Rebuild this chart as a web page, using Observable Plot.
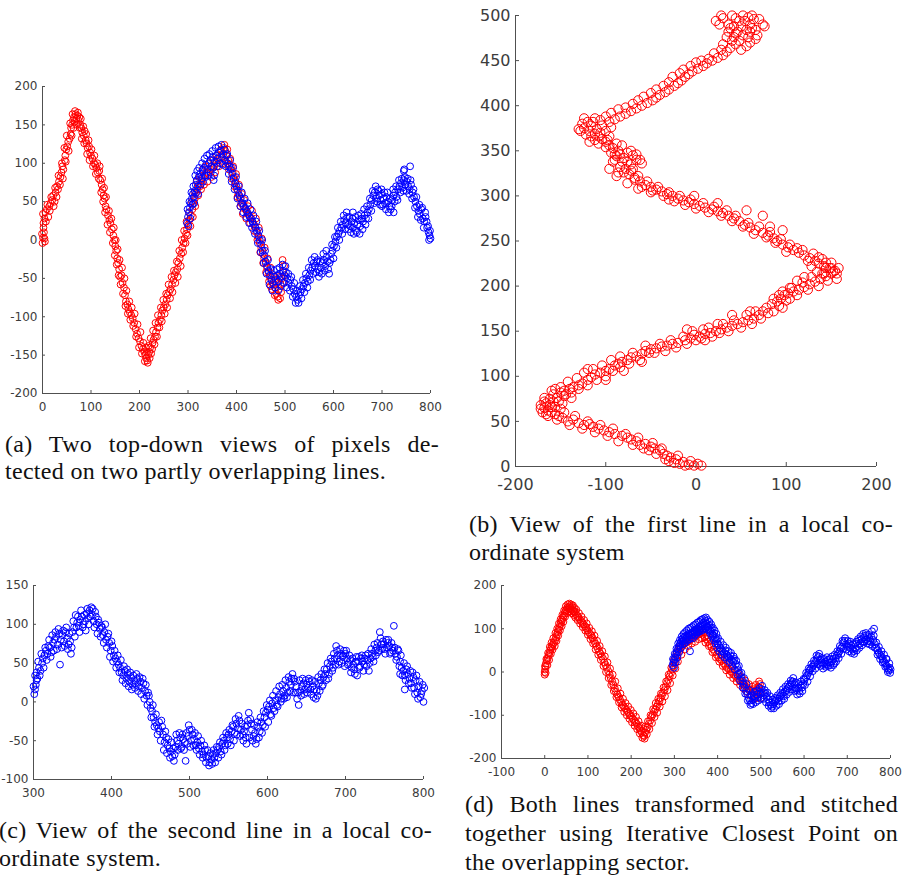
<!DOCTYPE html>
<html>
<head>
<meta charset="utf-8">
<script src="https://cdn.jsdelivr.net/npm/d3@7"></script>
<script src="https://cdn.jsdelivr.net/npm/@observablehq/plot@0.6"></script>
<style>
  html, body { margin: 0; padding: 0; background: #fff; }
  #page { position: relative; width: 902px; height: 879px; background: #fff; overflow: hidden; }
  .panel { position: absolute; }
  .cap { position: absolute; font-family: "Liberation Serif", "Times New Roman", serif; font-size: 24px;
         line-height: 24px; color: #111; letter-spacing: 0.3px; white-space: nowrap; }
  .just { text-align: justify; text-align-last: justify; white-space: normal; }
</style>
</head>
<body>
<div id="page"></div>
<script>
// (a) first line, global frame
const lineA1 = [
[0,-4],[1,3],[-1,8],[3,10],[5,-2],[2,16],[4,28],[1,34],[6,36],[9,40],[12,30],[14,44],[17,48],[20,52],[22,58],[25,50],[27,62],[30,70],[32,66],[34,76],[37,82],[39,88],[41,96],[43,92],[46,104],[47,110],[49,118],[51,122],[53,128],[56,132],[58,138],[59,146],[61,150],[63,156],[65,160],[66,154],[68,164],[70,158],[72,162],[74,156],[76,160],[78,150],[80,146],[82,140],[85,136],[87,142],[89,130],[91,126],[93,120],[96,122],[98,114],[100,110],[103,106],[106,100],[109,98],[111,94],[114,88],[117,90],[119,78],[122,72],[124,66],[126,58],[128,54],[130,44],[132,40],[135,32],[138,26],[140,22],[143,14],[146,6],[148,0],[150,-8],[152,-14],[154,-24],[156,-30],[158,-38],[160,-48],[163,-46],[165,-56],[168,-62],[170,-72],[172,-80],[175,-84],[177,-90],[180,-94],[183,-98],[186,-102],[189,-108],[192,-116],[195,-122],[198,-128],[201,-132],[204,-138],[207,-142],[210,-146],[212,-150],[214,-154],[216,-157],[218,-150],[220,-146],[222,-140],[224,-148],[227,-134],[229,-130],[232,-126],[234,-120],[237,-114],[239,-108],[242,-104],[245,-98],[247,-92],[250,-88],[253,-84],[256,-78],[258,-72],[261,-68],[264,-64],[267,-58],[270,-52],[272,-46],[275,-42],[278,-38],[280,-30],[283,-24],[286,-18],[288,-10],[291,-4],[293,2],[296,8],[298,14],[300,20],[303,26],[306,32],[309,40],[311,48],[314,54],[316,60],[319,66],[322,72],[325,70],[328,78],[331,82],[335,84],[338,88],[342,86],[346,92],[350,94],[354,96],[358,100],[362,104],[366,108],[370,112],[374,120],[377,116],[380,110],[383,104],[386,98],[389,94],[392,88],[395,82],[398,76],[401,66],[404,60],[407,54],[410,48],[414,44],[418,40],[422,36],[426,32],[430,28],[434,22],[438,18],[442,10],[445,4],[448,-4],[451,-10],[454,-18],[457,-24],[460,-30],[463,-36],[466,-42],[469,-48],[472,-52],[476,-58],[479,-62],[482,-70],[485,-74],[488,-64],[491,-58],[494,-50],[496,-42],[498,-34],[490,-76],[470,-60],[480,-50],
[2,22],[4,2],[7,24],[10,46],[15,38],[18,56],[23,44],[26,68],[29,56],[33,84],[36,72],[40,100],[42,80],[45,120],[48,102],[50,136],[54,116],[57,152],[60,136],[62,164],[64,146],[67,168],[71,150],[73,166],[77,146],[79,158],[81,132],[84,148],[86,126],[90,138],[92,112],[95,130],[97,104],[101,118],[104,96],[107,110],[110,86],[113,100],[116,80],[118,96],[121,62],[123,80],[125,50],[127,68],[129,36],[131,56],[134,20],[137,38],[139,10],[142,28],[145,-4],[147,16],[149,-20],[151,0],[153,-32],[155,-12],[157,-46],[159,-26],[161,-58],[164,-36],[166,-70],[169,-50],[171,-86],[173,-66],[176,-96],[179,-80],[181,-104],[184,-88],[187,-112],[190,-96],[193,-126],[196,-110],[199,-140],[202,-120],[205,-148],[208,-134],[211,-158],[213,-140],[215,-146],[217,-160],[219,-138],[221,-154],[223,-128],[226,-142],[228,-118],[231,-136],[233,-108],[236,-126],[238,-98],[241,-114],[244,-88],[246,-106],[249,-78],[252,-96],[255,-70],[257,-88],[260,-58],[263,-76],[266,-48],[268,-68],[271,-40],[274,-56],[277,-28],[279,-48],[282,-14],[285,-34],[287,0],[290,-16],[292,12],[295,-4],[297,24],[299,6],[302,36],[305,18],[308,50],[310,30],[313,62],[315,44],[318,76],[321,58],[324,82],[327,66],[330,92],[333,72],[336,96],[340,76],[344,100],[348,82],[352,104],[356,88],[360,110],[364,96],[368,118],[372,100],[375,124],[378,102],[381,118],[384,92],[387,106],[390,80],[393,96],[396,70],[399,86],[402,56],[405,72],[408,44],[411,60],[413,34],[416,52],[420,28],[424,44],[428,22],[432,38],[436,12],[440,28],[443,0],[446,16],[449,-16],[452,2],[455,-30],[458,-10],[461,-42],[464,-24],[467,-54],[470,-36],[473,-64],[476,-46],[479,-72],[483,-56],[486,-78],[489,-48],[492,-68],[495,-26],[497,-56],[499,-46]
];

// (a) second line, global frame
const lineA2 = [
[298,22],[300,30],[302,36],[304,42],[306,48],[308,54],[310,60],[312,56],[314,64],[316,72],[318,78],[320,70],[322,82],[325,86],[328,80],[330,90],[333,94],[335,84],[337,98],[340,92],[343,100],[346,104],[348,96],[351,108],[353,78],[355,102],[358,110],[361,106],[364,114],[367,116],[370,108],[373,112],[376,104],[379,110],[382,100],[385,96],[388,92],[391,86],[394,80],[397,74],[400,70],[403,64],[406,58],[409,54],[412,48],[415,44],[418,42],[421,38],[424,34],[427,30],[430,28],[433,24],[436,20],[439,16],[442,12],[445,6],[448,0],[451,-6],[454,-14],[457,-20],[460,-28],[463,-34],[466,-40],[469,-46],[472,-52],[475,-56],[478,-48],[481,-52],[484,-46],[487,-54],[490,-44],[493,-48],[496,-40],[499,-46],[502,-42],[505,-50],[508,-56],[511,-52],[514,-60],[517,-64],[520,-70],[523,-74],[526,-78],[529,-72],[532,-68],[535,-64],[538,-60],[541,-56],[544,-50],[547,-54],[550,-46],[553,-40],[556,-36],[559,-30],[562,-34],[565,-28],[568,-38],[571,-42],[574,-36],[577,-30],[580,-26],[583,-34],[586,-22],[589,-38],[592,-30],[595,-18],[598,-14],[601,-8],[604,-2],[607,4],[610,8],[613,12],[616,16],[619,20],[622,26],[625,22],[628,30],[631,14],[634,18],[637,24],[640,16],[643,22],[646,12],[649,20],[652,26],[655,18],[658,28],[661,24],[664,32],[667,28],[670,36],[673,40],[676,46],[679,52],[682,58],[685,62],[688,54],[691,66],[694,58],[697,52],[700,60],[703,54],[706,48],[709,56],[712,50],[715,44],[718,40],[721,52],[724,58],[727,62],[730,56],[733,66],[736,70],[739,74],[742,68],[745,78],[748,72],[751,76],[754,70],[757,66],[760,72],[763,62],[766,56],[769,50],[772,44],[775,38],[778,34],[781,40],[784,28],[787,24],[790,30],[793,16],[796,10],[798,6],[800,2],[745,90],[758,96],[746,92],[724,36],[700,44],[640,36],
[299,40],[301,18],[303,50],[305,28],[307,62],[309,46],[311,70],[313,48],[315,84],[317,62],[319,90],[321,60],[323,94],[326,72],[329,100],[331,76],[334,106],[336,82],[339,110],[341,84],[344,112],[347,88],[350,116],[352,94],[354,84],[357,120],[360,96],[363,122],[366,100],[369,124],[372,98],[375,118],[378,96],[381,112],[384,86],[387,104],[390,76],[393,94],[396,66],[399,82],[402,54],[405,70],[408,44],[411,62],[414,36],[417,54],[420,30],[423,48],[426,22],[429,40],[432,16],[435,32],[438,8],[441,24],[444,-4],[447,12],[450,-16],[453,0],[456,-30],[459,-14],[462,-44],[465,-26],[468,-58],[471,-38],[474,-66],[477,-40],[480,-62],[483,-38],[486,-66],[489,-36],[492,-60],[495,-32],[498,-56],[501,-34],[504,-62],[507,-44],[510,-66],[513,-48],[516,-74],[519,-56],[522,-82],[525,-66],[528,-82],[531,-60],[534,-76],[537,-52],[540,-68],[543,-44],[546,-62],[549,-36],[552,-52],[555,-26],[558,-44],[561,-22],[564,-42],[567,-26],[570,-48],[573,-28],[576,-44],[579,-18],[582,-40],[585,-14],[588,-28],[591,-44],[594,-26],[597,-6],[600,-24],[603,4],[606,-10],[609,16],[612,0],[615,24],[618,8],[621,32],[624,14],[627,36],[630,20],[633,30],[636,10],[639,28],[642,8],[645,30],[648,10],[651,32],[654,8],[657,34],[660,14],[663,40],[666,20],[669,44],[672,28],[675,54],[678,38],[681,64],[684,48],[687,70],[690,50],[693,64],[696,46],[699,66],[702,46],[705,62],[708,40],[711,62],[714,36],[717,54],[720,44],[723,66],[726,50],[729,70],[732,52],[735,78],[738,62],[741,80],[744,64],[747,82],[750,64],[753,80],[756,60],[759,78],[762,54],[765,66],[768,42],[771,56],[774,30],[777,46],[780,26],[783,42],[786,16],[789,36],[792,24],[795,18],[797,0],[799,12]
];

// (b) first line, local frame
const lineB = [
[-2,1],[2,3],[-8,2],[-14,5],[-18,3],[-22,8],[-28,10],[-32,12],[-36,14],[-30,6],[-40,18],[-46,20],[-50,22],[-56,25],[-62,24],[-66,28],[-72,30],[-76,32],[-82,34],[-90,36],[-96,38],[-102,40],[-108,42],[-114,44],[-118,47],[-124,46],[-130,48],[-136,52],[-142,50],[-148,54],[-152,56],[-156,58],[-160,60],[-164,62],[-168,65],[-162,68],[-166,70],[-158,72],[-162,75],[-154,76],[-158,80],[-150,82],[-146,84],[-140,86],[-136,88],[-130,90],[-126,92],[-120,96],[-116,99],[-112,102],[-106,104],[-100,106],[-96,108],[-90,112],[-86,114],[-82,116],[-76,118],[-72,121],[-66,122],[-60,125],[-56,128],[-50,130],[-44,131],[-38,133],[-32,134],[-26,136],[-20,137],[-12,140],[-6,142],[-2,146],[4,144],[10,147],[16,148],[22,150],[28,152],[34,154],[40,156],[46,158],[52,160],[58,162],[64,164],[70,168],[74,172],[78,176],[84,180],[90,183],[94,186],[98,190],[102,192],[108,194],[114,196],[120,199],[126,202],[132,205],[138,208],[144,211],[150,214],[154,217],[148,220],[142,222],[136,225],[132,228],[126,231],[120,234],[114,237],[108,240],[102,243],[96,246],[90,250],[86,253],[80,256],[74,259],[66,262],[60,265],[54,268],[48,272],[42,275],[36,278],[30,281],[24,283],[18,285],[10,287],[4,289],[-2,291],[-8,293],[-14,295],[-20,297],[-26,300],[-32,302],[-38,305],[-44,307],[-50,310],[-56,312],[-62,316],[-68,320],[-74,324],[-80,326],[-78,330],[-84,332],[-72,335],[-76,338],[-80,342],[-70,345],[-76,348],[-86,350],[-92,353],[-96,356],[-100,360],[-104,363],[-108,366],[-112,369],[-118,372],[-124,375],[-126,380],[-104,378],[-96,382],[-90,385],[-84,388],[-78,391],[-72,394],[-66,397],[-60,400],[-54,403],[-48,406],[-44,409],[-40,412],[-34,415],[-30,418],[-24,422],[-20,425],[-16,428],[-12,432],[-8,435],[-4,438],[2,441],[8,444],[12,447],[18,450],[24,453],[30,456],[34,460],[38,464],[44,468],[48,472],[42,476],[52,478],[46,482],[56,484],[50,488],[60,490],[54,494],[44,497],[30,497],[64,496],[74,490],[36,490],
[-6,6],[6,1],[-12,1],[-24,4],[-20,12],[-34,8],[-38,20],[-44,14],[-52,18],[-48,26],[-58,20],[-64,32],[-70,24],[-78,36],[-86,28],[-92,42],[-98,34],[-106,46],[-112,38],[-120,50],[-126,42],[-134,56],[-140,46],[-146,60],[-154,52],[-170,60],[-172,68],[-164,56],[-156,66],[-168,76],[-152,72],[-160,84],[-146,78],[-150,88],[-138,82],[-142,94],[-130,86],[-132,98],[-120,90],[-124,104],[-110,96],[-114,108],[-100,100],[-104,112],[-92,106],[-94,118],[-84,110],[-84,122],[-74,114],[-70,126],[-62,118],[-52,126],[-56,134],[-46,126],[-40,136],[-34,128],[-28,140],[-22,132],[-14,144],[-10,136],[-4,150],[0,140],[8,152],[6,142],[18,144],[14,154],[26,148],[30,158],[36,150],[42,162],[50,154],[56,168],[62,158],[66,172],[72,164],[80,170],[86,186],[92,178],[96,194],[104,186],[106,198],[112,190],[118,204],[124,196],[128,210],[136,200],[140,214],[146,206],[156,214],[158,220],[150,226],[152,216],[140,230],[144,220],[130,236],[136,232],[118,240],[124,228],[104,246],[112,242],[94,252],[100,238],[82,260],[88,248],[70,266],[78,254],[58,270],[64,258],[44,278],[52,266],[34,284],[40,272],[20,288],[28,278],[8,292],[14,282],[-6,296],[0,286],[-18,300],[-12,290],[-30,304],[-24,294],[-42,310],[-36,300],[-54,316],[-48,306],[-64,322],[-60,310],[-72,328],[-68,318],[-86,326],[-82,338],[-66,340],[-88,344],[-72,350],[-82,356],[-90,346],[-98,362],[-88,358],[-106,370],[-96,366],[-116,378],[-110,374],[-128,372],[-120,382],[-112,386],[-100,388],[-94,392],[-86,396],[-78,398],[-70,402],[-64,406],[-58,410],[-50,414],[-44,418],[-36,422],[-30,426],[-26,432],[-18,436],[-14,440],[-6,444],[0,448],[6,450],[14,452],[20,458],[28,462],[30,468],[40,472],[36,482],[58,476],[60,470],[66,484],[42,488],[48,494],[58,498],[26,490],[68,478],
[-88,322],[-96,330],[-92,338],[-62,340],[-66,346],[-90,340],[-84,346],[-94,348],[-100,354],[-108,358],[-112,362],[-116,366],[-122,368],[-118,360],[-130,374],[-124,386],[-114,382],[-106,384],[-100,372],[-94,376],[-60,336],[-70,330],[-76,314],[-64,308],
[22,494],[28,500],[40,500],[52,500],[62,500],[70,496],[76,488],[60,482],[66,474],[56,466],[50,462],[44,480],[38,486],[62,486],[34,476],
[-172,64],[-168,72],[-160,66],[-150,64],[-148,70],[-166,58],[-156,86],[-144,80],[-138,76],
[156,208],[150,220],[142,214],[134,216],[128,222],[144,226],[120,210],[112,206],[100,184],[92,190],[104,198],[96,176],[86,172],
[60,172],[40,168],[24,158],[-10,152],[10,140],[-60,116],[-80,106],[-100,96],[-120,108],[74,278],[82,266],[96,262],[56,284],[24,292],[-2,300],[-30,296],[-50,304]
];

// (c) second line, local frame
const lineC = [
[301,10],[302,16],[303,22],[302,34],[304,38],[305,30],[307,44],[309,40],[311,50],[312,56],[314,60],[316,66],[318,62],[319,72],[321,70],[323,64],[325,76],[327,80],[329,84],[331,74],[333,88],[334,48],[335,80],[337,86],[339,78],[341,90],[343,82],[345,74],[347,78],[349,70],[350,90],[352,96],[354,112],[356,102],[358,98],[360,106],[362,110],[364,100],[366,104],[368,114],[370,108],[372,118],[374,122],[375,112],[377,104],[379,116],[381,100],[383,106],[385,94],[387,98],[389,86],[391,90],[393,80],[395,84],[397,76],[399,66],[401,72],[403,60],[405,56],[407,52],[409,48],[411,44],[413,38],[415,34],[417,40],[419,30],[421,36],[423,26],[425,32],[427,22],[429,28],[431,24],[433,30],[435,20],[437,26],[439,18],[441,24],[443,14],[445,8],[447,12],[449,0],[450,-8],[452,-12],[454,-20],[456,-26],[458,-30],[460,-34],[462,-38],[464,-24],[466,-42],[468,-52],[470,-46],[472,-56],[474,-60],[476,-64],[478,-70],[480,-76],[482,-58],[484,-50],[486,-54],[488,-46],[490,-58],[492,-48],[494,-52],[496,-40],[498,-44],[500,-36],[502,-50],[504,-42],[506,-48],[508,-56],[510,-52],[512,-60],[514,-56],[516,-64],[518,-68],[520,-62],[522,-72],[524,-70],[526,-78],[528,-74],[530,-68],[532,-72],[534,-66],[536,-62],[538,-58],[540,-64],[542,-54],[544,-50],[546,-56],[548,-46],[550,-42],[552,-48],[554,-38],[556,-32],[558,-40],[560,-28],[562,-34],[564,-24],[566,-36],[568,-42],[570,-38],[572,-46],[574,-30],[576,-14],[578,-22],[580,-36],[582,-44],[584,-40],[586,-48],[588,-32],[590,-38],[592,-26],[594,-30],[596,-20],[598,-14],[600,-10],[602,-6],[604,-16],[606,-2],[608,-8],[610,2],[612,-4],[614,6],[616,10],[618,4],[620,14],[622,8],[624,18],[626,12],[628,26],[630,22],[632,36],[634,30],[636,12],[638,4],[640,-4],[642,14],[644,20],[646,24],[648,16],[650,22],[652,18],[654,26],[656,10],[658,20],[660,16],[662,4],[664,8],[666,24],[668,28],[670,20],[672,32],[674,36],[676,42],[678,30],[680,46],[682,52],[684,44],[686,56],[688,72],[690,60],[692,52],[694,62],[696,58],[698,66],[700,62],[702,56],[704,50],[706,54],[708,44],[710,48],[712,36],[714,58],[716,52],[718,44],[720,56],[722,52],[724,48],[726,60],[728,54],[730,40],[732,56],[734,62],[736,52],[738,66],[740,70],[742,64],[744,90],[746,74],[748,78],[750,68],[752,80],[754,76],[756,72],[758,64],[760,70],[762,98],[764,62],[766,58],[768,66],[770,52],[772,44],[774,40],[776,34],[778,42],[780,36],[782,30],[784,24],[786,38],[788,18],[790,28],[792,12],[794,20],[796,6],[798,14],[800,0],[801,18],[776,16],[770,36],
[300,20],[304,28],[306,52],[308,34],[310,62],[313,44],[315,70],[317,54],[320,80],[322,58],[324,86],[326,66],[328,90],[330,68],[332,94],[336,70],[338,92],[340,72],[342,96],[344,68],[346,88],[348,62],[351,104],[353,84],[355,96],[357,110],[359,90],[361,118],[363,96],[365,112],[367,92],[369,120],[371,100],[373,110],[376,120],[378,96],[380,110],[382,88],[384,102],[386,84],[388,96],[390,76],[392,100],[394,70],[396,88],[398,58],[400,78],[402,52],[404,66],[406,44],[408,60],[410,38],[412,54],[414,28],[416,46],[418,24],[420,42],[422,20],[424,38],[426,16],[428,34],[430,18],[432,36],[434,14],[436,32],[438,10],[440,30],[442,4],[444,22],[446,-4],[448,8],[451,-20],[453,-4],[455,-32],[457,-16],[459,-42],[461,-26],[463,-50],[465,-32],[467,-62],[469,-38],[471,-66],[473,-48],[475,-72],[477,-52],[479,-60],[481,-68],[483,-42],[485,-62],[487,-40],[489,-60],[491,-42],[493,-62],[495,-76],[497,-54],[499,-30],[501,-58],[503,-36],[505,-56],[507,-40],[509,-62],[511,-44],[513,-68],[515,-50],[517,-72],[519,-56],[521,-78],[523,-62],[525,-82],[527,-66],[529,-80],[531,-62],[533,-78],[535,-58],[537,-72],[539,-52],[541,-68],[543,-46],[545,-62],[547,-40],[549,-54],[551,-36],[553,-56],[555,-30],[557,-50],[559,-22],[561,-42],[563,-18],[565,-44],[567,-28],[569,-50],[571,-32],[573,-54],[575,-24],[577,-46],[579,-28],[581,-50],[583,-30],[585,-54],[587,-26],[589,-46],[591,-20],[593,-40],[595,-12],[597,-32],[599,-4],[601,-26],[603,2],[605,-18],[607,8],[609,-12],[611,14],[613,-6],[615,20],[617,0],[619,22],[621,4],[623,28],[625,6],[627,32],[629,14],[631,30],[633,12],[635,26],[637,20],[639,12],[641,28],[643,8],[645,30],[647,10],[649,28],[651,12],[653,30],[655,16],[657,28],[659,6],[661,26],[663,14],[665,32],[667,14],[669,36],[671,22],[673,42],[675,28],[677,50],[679,36],[681,56],[683,40],[685,62],[687,48],[689,66],[691,48],[693,68],[695,50],[697,60],[699,46],[701,66],[703,48],[705,60],[707,38],[709,56],[711,42],[713,52],[715,34],[717,58],[719,46],[721,60],[723,40],[725,56],[727,46],[729,62],[731,50],[733,68],[735,58],[737,74],[739,60],[741,76],[743,66],[745,82],[747,68],[749,74],[751,62],[753,70],[755,80],[757,62],[759,76],[761,66],[763,70],[765,54],[767,68],[769,46],[771,60],[773,34],[775,50],[777,28],[779,46],[781,24],[783,40],[785,18],[787,32],[789,10],[791,34],[793,4],[795,26],[797,10],[799,22]
];

// (d) both lines after ICP stitching
const lineD1 = [
[0,0],[1,6],[0,-6],[2,12],[3,20],[5,26],[7,32],[9,38],[11,44],[13,50],[15,56],[17,60],[19,64],[21,68],[24,74],[26,80],[28,86],[30,92],[32,98],[34,104],[36,110],[38,116],[40,120],[42,126],[44,130],[46,136],[48,140],[50,144],[52,148],[54,150],[56,146],[58,152],[60,148],[62,144],[64,150],[66,142],[68,138],[70,140],[72,134],[75,130],[78,126],[81,122],[84,118],[87,114],[90,110],[93,106],[96,102],[99,96],[102,92],[105,88],[108,84],[111,78],[114,72],[117,66],[120,60],[123,54],[126,48],[129,42],[132,36],[135,30],[138,22],[141,16],[144,10],[147,2],[150,-6],[153,-14],[156,-22],[159,-30],[162,-38],[165,-46],[168,-52],[171,-58],[174,-64],[177,-70],[180,-76],[183,-80],[186,-84],[189,-88],[192,-92],[195,-96],[198,-100],[201,-104],[204,-108],[207,-112],[210,-116],[213,-120],[216,-126],[219,-130],[222,-136],[225,-140],[228,-146],[230,-148],[232,-140],[235,-134],[238,-128],[241,-120],[244,-112],[247,-104],[250,-98],[253,-92],[256,-86],[259,-80],[262,-74],[265,-68],[268,-60],[271,-54],[274,-48],[277,-42],[280,-34],[283,-26],[286,-18],[289,-10],[292,-2],[295,6],[298,14],[301,22],[304,30],[307,38],[310,46],[314,54],[318,60],[322,64],[326,68],[330,70],[334,72],[338,76],[342,78],[346,80],[350,84],[354,86],[358,88],[362,90],[366,86],[370,80],[374,76],[378,70],[382,64],[386,58],[390,52],[394,46],[398,40],[402,34],[406,30],[410,26],[414,20],[418,14],[422,10],[426,6],[430,2],[434,-2],[438,-6],[442,-10],[446,-14],[450,-18],[454,-22],[458,-26],[462,-30],[466,-34],[470,-38],[474,-42],[478,-44],[482,-46],[486,-48],[490,-42],[494,-34],[496,-22],[498,-28],[500,-60],[484,-62],[492,-52],
[1,14],[2,-2],[4,30],[6,16],[8,44],[10,28],[12,58],[14,42],[16,68],[18,52],[20,78],[23,60],[25,90],[27,72],[29,100],[31,84],[33,112],[35,96],[37,122],[39,106],[41,132],[43,116],[45,142],[47,128],[49,152],[51,136],[53,156],[55,140],[57,158],[59,140],[61,156],[63,136],[65,154],[67,132],[69,148],[71,126],[73,144],[76,120],[79,136],[82,112],[85,128],[88,104],[91,120],[94,96],[97,112],[100,86],[103,102],[106,76],[109,94],[112,66],[115,84],[118,52],[121,72],[124,40],[127,60],[130,28],[133,48],[136,14],[139,36],[142,0],[145,22],[148,-14],[151,8],[154,-30],[157,-6],[160,-44],[163,-22],[166,-58],[169,-38],[172,-70],[175,-50],[178,-82],[181,-62],[184,-92],[187,-72],[190,-100],[193,-80],[196,-108],[199,-88],[202,-116],[205,-96],[208,-124],[211,-104],[214,-132],[217,-114],[220,-142],[223,-124],[226,-152],[229,-132],[231,-154],[233,-126],[236,-144],[239,-114],[242,-132],[245,-100],[248,-118],[251,-86],[254,-104],[257,-72],[260,-94],[263,-62],[266,-80],[269,-50],[272,-68],[275,-36],[278,-56],[281,-22],[284,-42],[287,-6],[290,-26],[293,10],[296,-8],[299,28],[302,8],[305,44],[308,24],[312,58],[316,40],[320,70],[324,52],[328,78],[332,60],[336,84],[340,66],[344,88],[348,70],[352,92],[356,76],[360,96],[364,78],[368,92],[372,68],[376,84],[380,60],[384,74],[388,46],[392,62],[396,34],[400,50],[404,24],[408,40],[412,14],[416,30],[420,4],[424,20],[428,-6],[432,12],[436,-14],[440,4],[444,-22],[448,-4],[452,-30],[456,-12],[460,-38],[464,-20],[468,-46],[472,-28],[476,-54],[480,-34],[484,-40],[488,-30],[492,-60],[496,-36],[500,-48]
];
const lineD2 = [
[296,16],[298,22],[300,28],[302,34],[304,40],[306,46],[308,52],[310,58],[312,62],[314,66],[316,70],[318,74],[320,78],[322,72],[324,82],[326,76],[328,84],[330,80],[332,88],[334,84],[336,48],[338,90],[340,86],[342,92],[344,88],[346,96],[348,92],[350,98],[352,94],[354,100],[356,104],[358,98],[360,106],[362,102],[364,110],[366,106],[368,114],[370,110],[372,118],[374,112],[376,106],[378,102],[380,108],[382,98],[384,94],[386,100],[388,88],[390,84],[392,90],[394,78],[396,72],[398,76],[400,66],[403,62],[406,56],[409,52],[412,48],[415,44],[418,50],[421,40],[424,36],[427,32],[430,38],[433,28],[436,24],[439,30],[442,18],[445,12],[448,4],[451,-4],[454,-12],[457,-20],[460,-28],[463,-36],[466,-44],[469,-52],[472,-60],[475,-66],[478,-72],[481,-64],[484,-56],[487,-60],[490,-52],[493,-58],[496,-46],[499,-50],[502,-40],[505,-48],[508,-54],[511,-50],[514,-58],[517,-64],[520,-70],[523,-76],[526,-80],[529,-74],[532,-70],[535,-66],[538,-62],[541,-68],[544,-58],[547,-54],[550,-50],[553,-56],[556,-46],[559,-42],[562,-38],[565,-34],[568,-30],[571,-26],[574,-22],[577,-28],[580,-36],[583,-42],[586,-38],[589,-44],[592,-32],[595,-36],[598,-28],[601,-18],[604,-12],[607,-8],[610,-2],[613,4],[616,8],[619,12],[622,16],[625,20],[628,26],[631,32],[634,36],[637,28],[640,22],[643,16],[646,20],[649,24],[652,18],[655,28],[658,22],[661,16],[664,24],[667,30],[670,20],[673,32],[676,38],[679,42],[682,48],[685,54],[688,58],[691,68],[694,72],[697,64],[700,60],[703,66],[706,56],[709,62],[712,52],[715,48],[718,54],[721,70],[724,60],[727,72],[730,66],[733,76],[736,70],[739,80],[742,84],[745,76],[748,72],[751,78],[754,70],[757,94],[760,74],[762,100],[764,64],[767,56],[770,50],[773,44],[776,40],[779,36],[782,30],[785,24],[788,20],[791,14],[794,8],[796,4],[798,10],[800,6],[790,30],
[297,30],[299,10],[301,42],[303,22],[305,54],[307,34],[309,66],[311,46],[313,74],[315,56],[317,82],[319,64],[321,88],[323,66],[325,92],[327,70],[329,96],[331,74],[333,100],[335,76],[337,102],[339,80],[341,104],[343,78],[345,108],[347,84],[349,110],[351,88],[353,114],[355,92],[357,116],[359,94],[361,120],[363,96],[365,122],[367,100],[369,124],[371,100],[373,126],[375,104],[377,120],[379,96],[381,116],[383,90],[385,110],[387,82],[389,102],[391,74],[393,96],[395,66],[397,88],[399,56],[401,78],[404,48],[407,70],[410,40],[413,62],[416,34],[419,56],[422,28],[425,48],[428,22],[431,44],[434,14],[437,36],[440,6],[443,26],[446,-6],[449,14],[452,-20],[455,-2],[458,-36],[461,-14],[464,-50],[467,-28],[470,-66],[473,-42],[476,-76],[479,-54],[482,-74],[485,-46],[488,-70],[491,-44],[494,-66],[497,-38],[500,-62],[503,-32],[506,-62],[509,-42],[512,-70],[515,-48],[518,-78],[521,-56],[524,-84],[527,-64],[530,-84],[533,-60],[536,-78],[539,-54],[542,-74],[545,-48],[548,-66],[551,-40],[554,-62],[557,-34],[560,-52],[563,-28],[566,-46],[569,-20],[572,-40],[575,-14],[578,-44],[581,-24],[584,-52],[587,-28],[590,-50],[593,-22],[596,-44],[599,-16],[602,-30],[605,-2],[608,-22],[611,8],[614,-10],[617,18],[620,2],[623,26],[626,8],[629,38],[632,18],[635,42],[638,14],[641,32],[644,8],[647,30],[650,12],[653,34],[656,14],[659,30],[662,10],[665,36],[668,16],[671,40],[674,24],[677,48],[680,32],[683,60],[686,42],[689,72],[692,54],[695,78],[698,52],[701,72],[704,48],[707,70],[710,44],[713,64],[716,42],[719,66],[722,50],[725,76],[728,56],[731,82],[734,62],[737,88],[740,70],[743,90],[746,66],[749,86],[752,64],[755,82],[758,60],[761,84],[764,56],[767,68],[770,40],[773,58],[776,30],[779,48],[782,22],[785,40],[788,12],[791,30],[794,0],[797,20],[799,-2]
];

// tick values per panel
const ticksAx = [0, 100, 200, 300, 400, 500, 600, 700, 800];
const ticksAy = [-200, -150, -100, -50, 0, 50, 100, 150, 200];
const ticksBx = [-200, -100, 0, 100, 200];
const ticksBy = [0, 50, 100, 150, 200, 250, 300, 350, 400, 450, 500];
const ticksCx = [300, 400, 500, 600, 700, 800];
const ticksCy = [-100, -50, 0, 50, 100, 150];
const ticksDx = [-100, 0, 100, 200, 300, 400, 500, 600, 700, 800];
const ticksDy = [-200, -100, 0, 100, 200];

const RED = "#ff0000", BLUE = "#0000ff", AXIS = "#505050";

const page = document.getElementById("page");

function panel({left, top, width, height, margin, xDomain, yDomain, xTicks, yTicks, series, r, fontSize, tick, xPad}) {
  const marks = [
    Plot.ruleX([xDomain[0]], {stroke: AXIS}),
    Plot.ruleY([yDomain[0]], {stroke: AXIS}),
    Plot.axisX(xTicks, {tickSize: -tick, tickPadding: xPad, tickFormat: d => String(d), stroke: AXIS}),
    Plot.axisY(yTicks, {tickSize: -tick, tickPadding: 5 + tick, tickFormat: d => String(d), stroke: AXIS})
  ];
  for (const s of series) {
    marks.push(Plot.dot(s.data, {x: d => d[0], y: d => d[1], r, stroke: s.color, strokeWidth: 1, fill: "none"}));
  }
  const svg = Plot.plot({
    width, height,
    marginLeft: margin[0], marginRight: margin[1], marginTop: margin[2], marginBottom: margin[3],
    x: {domain: xDomain, label: null},
    y: {domain: yDomain, label: null},
    style: {fontFamily: "DejaVu Sans, sans-serif", fontSize: fontSize + "px", color: "#3c3c3c", background: "transparent", overflow: "visible"},
    marks
  });
  const wrap = document.createElement("div");
  wrap.className = "panel";
  wrap.style.left = left + "px";
  wrap.style.top = top + "px";
  wrap.appendChild(svg);
  page.appendChild(wrap);
}

panel({left: 0, top: 70, width: 450, height: 345, margin: [42, 20, 16, 22],
  xDomain: [0, 800], yDomain: [-200, 200], xTicks: ticksAx, yTicks: ticksAy,
  series: [{data: lineA1, color: RED}, {data: lineA2, color: BLUE}], r: 3.4, fontSize: 12, tick: 3, xPad: 12});

panel({left: 450, top: 0, width: 452, height: 495, margin: [65, 26, 15, 29],
  xDomain: [-200, 200], yDomain: [0, 500], xTicks: ticksBx, yTicks: ticksBy,
  series: [{data: lineB, color: RED}], r: 4.6, fontSize: 16, tick: 4, xPad: 16});

panel({left: 0, top: 560, width: 440, height: 245, margin: [33, 17, 25, 26],
  xDomain: [300, 800], yDomain: [-100, 150], xTicks: ticksCx, yTicks: ticksCy,
  series: [{data: lineC, color: BLUE}], r: 3.4, fontSize: 12, tick: 3, xPad: 12});

panel({left: 450, top: 570, width: 452, height: 210, margin: [51, 12, 15, 22],
  xDomain: [-100, 800], yDomain: [-200, 200], xTicks: ticksDx, yTicks: ticksDy,
  series: [{data: lineD1, color: RED}, {data: lineD2, color: BLUE}], r: 3.5, fontSize: 12, tick: 3, xPad: 12});

// sub-figure captions, one element per typeset line (baseline, left edge, justified width)
const captions = [
  ["(a) Two top-down views of pixels de-", 452, 5, 434],
  ["tected on two partly overlapping lines.", 479, 5, 0],
  ["(b) View of the first line in a local co-", 532, 469, 424],
  ["ordinate system", 560, 469, 0],
  ["(c) View of the second line in a local co-", 838, -1, 433],
  ["ordinate system.", 866, -1, 0],
  ["(d) Both lines transformed and stitched", 812, 465, 433],
  ["together using Iterative Closest Point on", 841, 465, 433],
  ["the overlapping sector.", 870, 465, 0]
];
for (const [text, baseline, x, w] of captions) {
  const el = document.createElement("div");
  el.className = "cap" + (w ? " just" : "");
  el.textContent = text;
  el.style.left = x + "px";
  el.style.top = (baseline - 20) + "px";
  if (w) el.style.width = w + "px";
  page.appendChild(el);
}
</script>
</body>
</html>
